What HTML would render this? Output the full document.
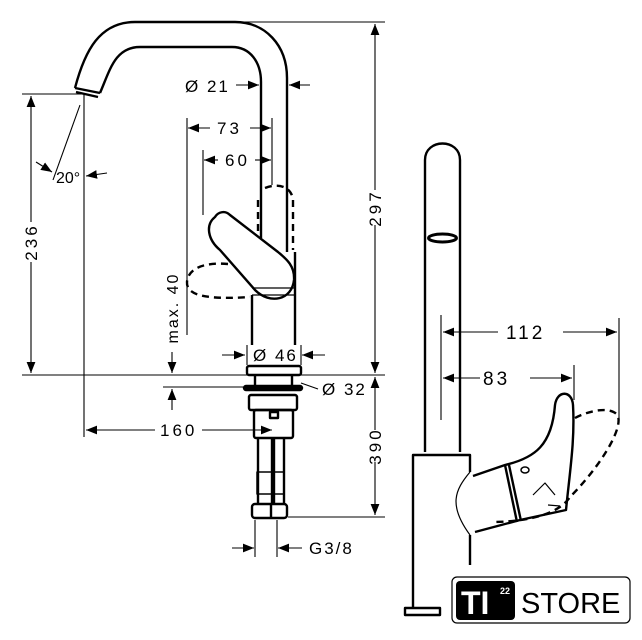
<!DOCTYPE html>
<html><head><meta charset="utf-8"><style>
html,body{margin:0;padding:0;background:#fff;width:642px;height:640px;overflow:hidden}
text{font-family:"Liberation Sans",sans-serif;fill:#000}
</style></head><body>
<svg width="642" height="640" viewBox="0 0 642 640" xmlns="http://www.w3.org/2000/svg">
<defs><marker id="a" viewBox="0 0 10 10" refX="10" refY="5" markerWidth="11" markerHeight="11" orient="auto-start-reverse" markerUnits="userSpaceOnUse"><path d="M0,1 L10,5 L0,9z" fill="#000"/></marker></defs>
<g fill="none" stroke="#000" stroke-width="1.1">
<line x1="240" y1="22" x2="385" y2="22"/>
<line x1="22" y1="94" x2="84" y2="94"/>
<line x1="22" y1="375" x2="385" y2="375"/>
<line x1="84" y1="94" x2="84" y2="437"/>
<line x1="375" y1="24" x2="375" y2="190" marker-start="url(#a)"/>
<line x1="375" y1="225" x2="375" y2="373" marker-end="url(#a)"/>
<line x1="31" y1="96" x2="31" y2="222" marker-start="url(#a)"/>
<line x1="31" y1="262" x2="31" y2="373" marker-end="url(#a)"/>
<line x1="80" y1="105" x2="53" y2="180"/>
<line x1="36" y1="162" x2="52" y2="172" marker-end="url(#a)"/>
<line x1="107" y1="173" x2="86" y2="176" marker-end="url(#a)"/>
<line x1="236" y1="85" x2="259" y2="85" marker-end="url(#a)"/>
<line x1="310" y1="85" x2="289" y2="85" marker-end="url(#a)"/>
<line x1="187" y1="118" x2="187" y2="335"/>
<line x1="272" y1="118" x2="272" y2="185"/>
<line x1="210" y1="128" x2="188" y2="128" marker-end="url(#a)"/>
<line x1="250" y1="128" x2="271" y2="128" marker-end="url(#a)"/>
<line x1="203" y1="150" x2="203" y2="215"/>
<line x1="218" y1="160" x2="204" y2="160" marker-end="url(#a)"/>
<line x1="255" y1="160" x2="271" y2="160" marker-end="url(#a)"/>
<line x1="172" y1="352" x2="172" y2="373" marker-end="url(#a)"/>
<line x1="163" y1="387" x2="245" y2="387"/>
<line x1="172" y1="410" x2="172" y2="389" marker-end="url(#a)"/>
<line x1="222" y1="355" x2="245" y2="355" marker-end="url(#a)"/>
<line x1="325" y1="355" x2="302" y2="355" marker-end="url(#a)"/>
<line x1="247" y1="345" x2="247" y2="365"/><line x1="301" y1="345" x2="301" y2="365"/>
<line x1="301" y1="383" x2="318" y2="389"/>
<line x1="375" y1="377" x2="375" y2="430" marker-start="url(#a)"/>
<line x1="375" y1="462" x2="375" y2="515" marker-end="url(#a)"/>
<line x1="288" y1="517" x2="385" y2="517"/>
<line x1="155" y1="430" x2="86" y2="430" marker-end="url(#a)"/>
<line x1="202" y1="430" x2="272" y2="430" marker-end="url(#a)"/>
<line x1="255" y1="520" x2="255" y2="557"/><line x1="277" y1="520" x2="277" y2="557"/>
<line x1="232" y1="548" x2="254" y2="548" marker-end="url(#a)"/>
<line x1="302" y1="548" x2="278" y2="548" marker-end="url(#a)"/>
<line x1="441" y1="315" x2="441" y2="420"/>
<line x1="619" y1="318" x2="619" y2="420"/>
<line x1="574" y1="365" x2="574" y2="400"/>
<line x1="498" y1="332" x2="443" y2="332" marker-end="url(#a)"/>
<line x1="563" y1="332" x2="617" y2="332" marker-end="url(#a)"/>
<line x1="480" y1="378" x2="443" y2="378" marker-end="url(#a)"/>
<line x1="530" y1="378" x2="572" y2="378" marker-end="url(#a)"/>
</g>
<g fill="none" stroke="#000" stroke-width="2.4" stroke-linejoin="round">
<path d="M75,88 C85,50 100,22 135,22 L235,22 C265,22 287,45 287,78 L287,252"/>
<path d="M100,93 C110,70 115,47 140,47 L232,47 C250,47 261,62 261,82 L261,238"/>
<path d="M75,88 L100,93 M76,92 L98,97"/>
<path d="M295,252 L295,345 M252,295 L252,345"/>
<rect x="247" y="366" width="54" height="9" rx="2"/>
<line x1="255" y1="375" x2="255" y2="385"/><line x1="292" y1="375" x2="292" y2="385"/>
<rect x="244" y="386" width="58" height="4" rx="2" fill="#000"/>
<rect x="249" y="395" width="48" height="15" rx="2"/>
<rect x="254" y="410" width="39" height="28" rx="2"/>
<rect x="270" y="412" width="8" height="6"/>
<line x1="258" y1="438" x2="258" y2="505"/><line x1="272" y1="438" x2="272" y2="505"/>
<line x1="274" y1="438" x2="274" y2="505"/><line x1="284" y1="438" x2="284" y2="505"/>
<rect x="257" y="472" width="27" height="22" stroke-width="1.5"/>
<rect x="252" y="504" width="35" height="14" rx="3"/>
<line x1="271" y1="504" x2="271" y2="518"/>
<path d="M215,217 C205,225 208,240 220,250 L255,290 C270,305 292,300 294,280 C295,265 285,258 278,252 L230,215 C225,210 218,212 215,217Z" fill="#fff"/>
<path d="M252,288 L295,288 M252,295 L295,295" stroke-width="1.2"/>
</g>
<g fill="none" stroke="#000" stroke-width="2.4" stroke-dasharray="7,5">
<path d="M265,188 C280,182 292,188 293,200 L293,250"/>
<path d="M258,200 L258,232"/>
<path d="M228,264 C205,262 188,268 187,282 C186,295 205,300 250,297"/>
</g>
<g fill="none" stroke="#000" stroke-width="2.4" stroke-linejoin="round">
<path d="M425,452 L425,160 C425,138 460,138 460,160 L460,452"/>
<ellipse cx="442.5" cy="238" rx="14" ry="4" stroke-width="3"/>
<path d="M470,472 L470,455 L413,455 L413,607"/>
<path d="M470,535 L470,565"/>
<path d="M405,608 L440,608 L440,615 L405,615 Z"/>
<path d="M473,476 L505,465 C535,458 552,445 555,405 C557,390 572,390 573,405 C575,440 570,470 566,510 L520,520 L475,532"/>
<path d="M505,465 L517,522 M509,465 L521,521"/>
<path d="M470,472 C455,490 448,505 470,535" stroke-width="1.2"/>
<ellipse cx="525" cy="470" rx="4" ry="3" stroke-width="1.5"/>
<path d="M533,495 L545,483 L555,495 M548,505 L560,506" stroke-width="1.2"/>
</g>
<path d="M575,418 C590,410 612,406 618,416 C623,432 595,472 570,497 C560,512 535,521 495,522" fill="none" stroke="#000" stroke-width="2.4" stroke-dasharray="7,5"/>
<text x="185" y="92" font-size="17" letter-spacing="2">Ø 21</text>
<text x="217" y="134" font-size="17" letter-spacing="3">73</text>
<text x="225" y="166" font-size="17" letter-spacing="3">60</text>
<text x="56" y="183" font-size="16">20°</text>
<text x="253" y="361" font-size="17" letter-spacing="2">Ø 46</text>
<text x="322" y="395" font-size="17" letter-spacing="2">Ø 32</text>
<text x="160" y="436" font-size="17" letter-spacing="3">160</text>
<text x="309" y="554" font-size="17" letter-spacing="2">G3/8</text>
<text transform="translate(381,208) rotate(-90)" font-size="17" letter-spacing="3" text-anchor="middle">297</text>
<text transform="translate(37,242) rotate(-90)" font-size="17" letter-spacing="3" text-anchor="middle">236</text>
<text transform="translate(381,446) rotate(-90)" font-size="17" letter-spacing="3" text-anchor="middle">390</text>
<text transform="translate(178,308) rotate(-90)" font-size="16" letter-spacing="2" text-anchor="middle">max. 40</text>
<text x="506" y="339" font-size="19" letter-spacing="3">112</text>
<text x="483" y="385" font-size="19" letter-spacing="3">83</text>
<rect x="452" y="577" width="178" height="46" rx="5" fill="#fff" stroke="#000" stroke-width="1.2"/>
<rect x="456" y="581" width="59" height="39" rx="4" fill="#000"/>
<text x="461" y="614" font-size="32" font-weight="bold" style="fill:#fff">TI</text>
<text x="500" y="594" font-size="9" font-weight="bold" style="fill:#fff">22</text>
<text x="521" y="613" font-size="29">STORE</text>
</svg>
</body></html>
